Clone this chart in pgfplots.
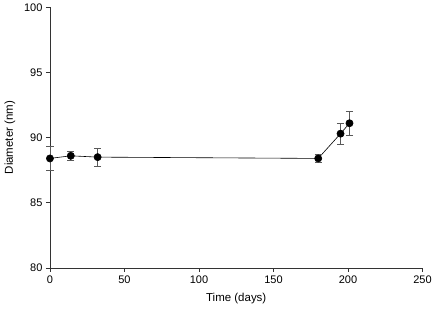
\documentclass[border=0pt]{standalone}
\usepackage{fontspec}
\setmainfont{Liberation Sans}
\usepackage{pgfplots}
\pgfplotsset{compat=1.18}
\begin{document}
\begin{tikzpicture}
\begin{axis}[
  scale only axis,
  width=373pt, height=261pt,
  xmin=0, xmax=250, ymin=80, ymax=100,
  xtick={0,50,...,250}, ytick={80,85,...,100},
  axis x line*=bottom, axis y line*=left,
  tick align=outside, major tick length=4pt,
  axis line style={black!80, line width=0.6pt},
  every tick/.style={black!80, line width=0.6pt},
  /pgf/number format/assume math mode=true,
  ticklabel style={font=\fontsize{11}{13}\selectfont},
  label style={font=\fontsize{11.5}{14}\selectfont},
  xlabel={Time (days)}, ylabel={Diameter (nm)},
  xlabel style={yshift=-3pt},
  ylabel style={yshift=2pt},
  clip=false,
]
\addplot+[black, line width=0.6pt, mark=*, mark size=3.6pt,
  mark options={fill=black, draw=black},
  error bars/.cd, y dir=both, y explicit,
  error bar style={black!65, line width=0.7pt},
  error mark options={rotate=90, mark size=3.6pt, black!65, line width=0.7pt}]
  coordinates {
  (0,88.4) +- (0,0.93)
  (14,88.6) +- (0,0.38)
  (32,88.5) +- (0,0.7)
  (180,88.4) +- (0,0.32)
  (195,90.3) +- (0,0.8)
  (201,91.1) +- (0,0.9)
  };
\end{axis}
\path (current axis.south west) ++(-50pt,-47pt) coordinate (bl);
\path (current axis.north east) ++(12pt,6pt) coordinate (tr);
\useasboundingbox (bl) rectangle (tr);
\end{tikzpicture}
\end{document}
